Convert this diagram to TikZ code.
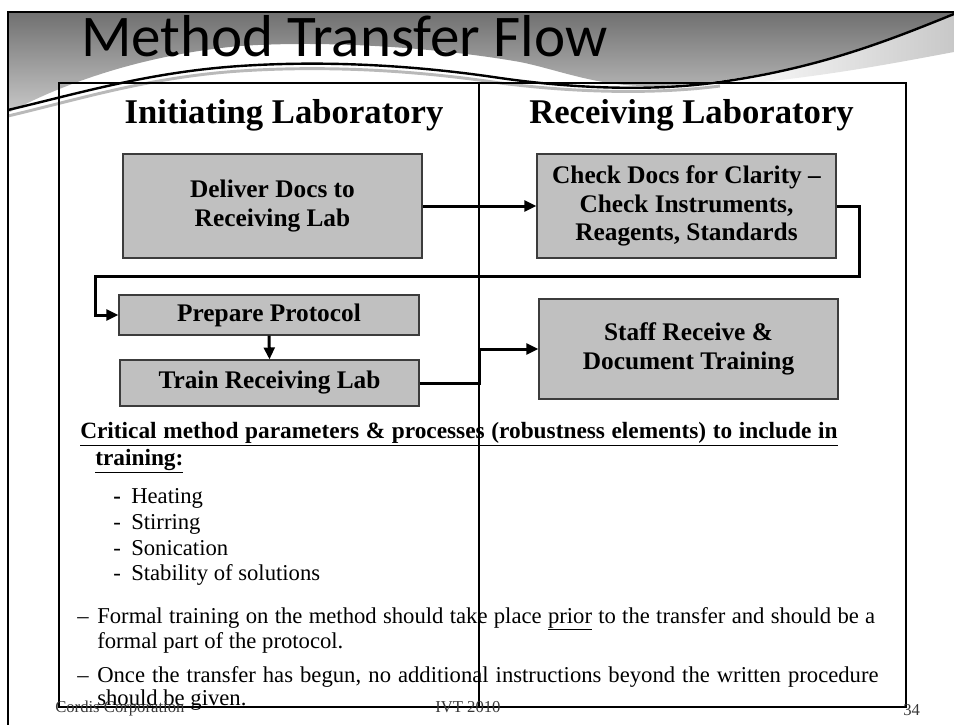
\documentclass[tikz,border=0pt]{standalone}
\usepackage{fontspec}
\setmainfont{Liberation Serif}
\newfontfamily\titlefont{Carlito}
\usetikzlibrary{arrows.meta}

\definecolor{boxfill}{RGB}{192,192,192}
\definecolor{boxedge}{RGB}{60,60,60}
\definecolor{hdrdark}{RGB}{112,112,112}
\definecolor{hdrlight}{RGB}{200,200,200}
\definecolor{footgray}{RGB}{55,55,55}

\begin{document}
\begin{tikzpicture}[x=0.75pt,y=0.75pt,yscale=-1,xscale=1,
  procbox/.style={draw=boxedge,fill=boxfill,line width=0.8pt,align=center,inner sep=0pt,
    font=\bfseries\fontsize{19}{21.5}\selectfont},
  flowline/.style={line width=2.25pt,-{Triangle[length=9pt,width=8pt]}},
  colhead/.style={anchor=base,inner sep=0pt,font=\bfseries\fontsize{26}{30}\selectfont},
  bodytext/.style={anchor=base west,inner sep=0pt,font=\fontsize{17}{20}\selectfont},
  foottext/.style={anchor=base west,inner sep=0pt,text=footgray,font=\fontsize{12.5}{14}\selectfont}]
\useasboundingbox (0,0) rectangle (954,725);

%Header band
\shade[top color=hdrdark,bottom color=hdrlight] (8,12) -- (954,12) -- (954,17) .. controls (880,45) and (780,80) .. (660,86) .. controls (600,88) and (560,70) .. (520,62) .. controls (440,48) and (330,40) .. (240,46) .. controls (140,55) and (60,85) .. (8,113) -- cycle ;
%Swoosh under the band
\shade[left color=white,right color=hdrlight] (720,82) .. controls (820,68) and (890,40) .. (954,14) -- (954,52) .. controls (900,62) and (820,78) .. (720,86) -- cycle ;
\draw [color=gray!55,line width=2.2pt] (8,116) .. controls (80,99) and (150,77) .. (240,71) .. controls (330,65) and (420,71) .. (500,83) .. controls (570,92) and (650,95) .. (720,86) ;
\draw [line width=1.8pt] (8,110) .. controls (80,93) and (150,72) .. (240,66) .. controls (330,60) and (420,66) .. (500,78) .. controls (570,88) and (650,92) .. (720,82) .. controls (820,68) and (890,40) .. (954,14) ;
%Slide frame
\draw [line width=1.5pt] (8,725) -- (8,12) -- (954,12) ;

% Title
\node [anchor=base west,inner sep=0pt,font=\titlefont\fontsize{44.3}{50}\selectfont] (title) at (81,56) {Method Transfer Flow};

%Two column table
\draw [line width=0.8pt] (59,83) rectangle (906,707) ;
\draw [line width=0.8pt] (479,83) -- (479,707) ;
\node [colhead] (headinit) at (284,123) {Initiating Laboratory};
\node [colhead] (headrecv) at (691.5,123) {Receiving Laboratory};

%Process boxes
\node [procbox,minimum width=224.25pt,minimum height=78pt] (deliver) at (272.5,206) {Deliver Docs to\\Receiving Lab};
\node [procbox,minimum width=224.25pt,minimum height=78pt] (check) at (686.5,206) {Check Docs for Clarity --\\Check Instruments,\\Reagents, Standards};
\node [procbox,minimum width=225pt,minimum height=30pt] (prepare) at (269,315) {Prepare Protocol};
\node [procbox,minimum width=224.25pt,minimum height=34.5pt] (train) at (269.5,383) {Train Receiving Lab};
\node [procbox,minimum width=224.25pt,minimum height=75pt] (staff) at (688.5,349) {Staff Receive \&\\Document Training};

%Connectors
\coordinate (loopR) at (859,276);
\coordinate (loopL) at (95,276);
\coordinate (bend) at (479,366);
\draw [flowline] (deliver.east) -- (check.west) ;
\draw [flowline] (check.east) -| (loopR) -- (loopL) |- (prepare.west) ;
\draw [flowline] (prepare.south) -- (train.north) ;
\draw [flowline] (train.east) -| (bend) |- (staff.west) ;

% Text under the boxes
\node [bodytext,font=\bfseries\fontsize{17.5}{20}\selectfont] (critical) at (80,438) {\underline{\makebox[568pt][s]{Critical method parameters \& processes (robustness elements) to include in}}};
\node [bodytext,font=\bfseries\fontsize{17.5}{20}\selectfont] (training) at (95,465) {\underline{training:}};

\node [bodytext] (heating) at (113,503) {\makebox[13.5pt][l]{\bfseries -}Heating};
\node [bodytext] (stirring) at (113,529) {\makebox[13.5pt][l]{-}Stirring};
\node [bodytext] (sonication) at (113,555) {\makebox[13.5pt][l]{-}Sonication};
\node [bodytext] (stability) at (113,580) {\makebox[13.5pt][l]{-}Stability of solutions};

\node [bodytext] (dashone) at (77,623) {--};
\node [bodytext] (formal) at (97,623) {\makebox[583.5pt][s]{Formal training on the method should take place \underline{prior} to the transfer and should be a}};
\node [bodytext] (formaltwo) at (97,648) {formal part of the protocol.};
\node [bodytext] (dashtwo) at (77,682) {--};
\node [bodytext] (once) at (97,682) {\makebox[586pt][s]{Once the transfer has begun, no additional instructions beyond the written procedure}};
\node [bodytext] (oncetwo) at (97,705) {should be given.};

% Footer
\node [foottext] (company) at (55,712) {Cordis Corporation};
\node [foottext] (event) at (435,712) {IVT 2010};
\node [foottext] (pagenum) at (903,715) {34};

\end{tikzpicture}
\end{document}
